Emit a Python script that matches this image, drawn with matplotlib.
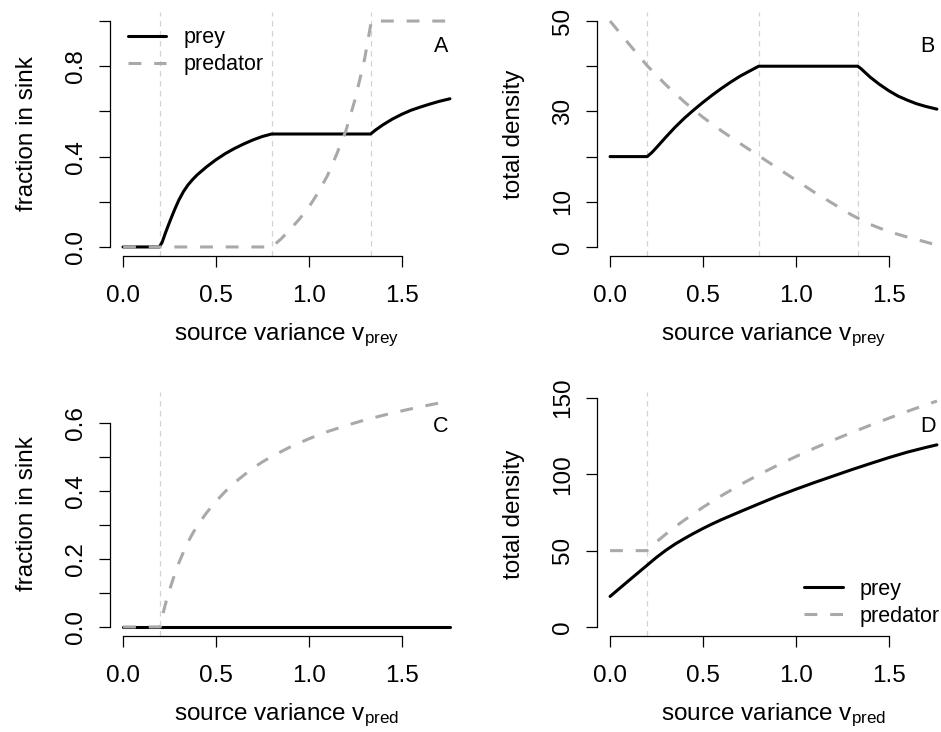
import matplotlib
matplotlib.use("Agg")
import matplotlib.pyplot as plt

plt.rcParams['font.family'] = ['Liberation Sans', 'DejaVu Sans']
plt.rcParams['mathtext.fontset'] = 'custom'
plt.rcParams['mathtext.rm'] = 'Liberation Sans'
plt.rcParams['mathtext.it'] = 'Liberation Sans:italic'

# ---------------- data ----------------
# Panel A: fraction in sink vs source variance v_prey
a_prey_v = [0, 0.195, 0.21, 0.225, 0.24, 0.26, 0.28, 0.30, 0.325, 0.35, 0.375, 0.40, 0.45,
            0.50, 0.55, 0.60, 0.65, 0.70, 0.75, 0.80,
            1.333, 1.36, 1.40, 1.45, 1.50, 1.55, 1.60, 1.65, 1.70, 1.76]
a_prey = [0, 0, 0.02, 0.055, 0.088, 0.13, 0.17, 0.207, 0.245, 0.275, 0.299, 0.320, 0.355,
          0.386, 0.413, 0.436, 0.456, 0.474, 0.489, 0.5,
          0.5, 0.518, 0.541, 0.566, 0.587, 0.605, 0.619, 0.632, 0.644, 0.656]
a_pred_v = [0, 0.80, 0.85, 0.90, 0.95, 1.00, 1.05, 1.10, 1.15, 1.20, 1.25, 1.30, 1.337, 1.76]
a_pred = [0, 0, 0.035, 0.078, 0.124, 0.176, 0.24, 0.315, 0.41, 0.515, 0.655, 0.83, 1.0, 1.0]

# Panel B: total density vs v_prey
b_prey_v = [0, 0.2, 0.225, 0.25, 0.30, 0.35, 0.40, 0.45, 0.50, 0.55, 0.60, 0.65, 0.70, 0.75, 0.80,
            1.333, 1.35, 1.40, 1.45, 1.50, 1.55, 1.60, 1.65, 1.70, 1.76]
b_prey = [20, 20, 20.9, 22.0, 24.3, 26.5, 28.5, 30.3, 32.0, 33.6, 35.1, 36.5, 37.8, 38.9, 40,
          40, 39.5, 37.6, 36.0, 34.6, 33.4, 32.5, 31.7, 31.1, 30.5]
b_pred_v = [0, 0.1, 0.2, 0.3, 0.4, 0.5, 0.6, 0.7, 0.8, 0.9, 1.0, 1.1, 1.2, 1.3, 1.4, 1.5,
            1.6, 1.7, 1.76]
b_pred = [50, 45.0, 40.1, 35.9, 32.1, 28.7, 25.7, 22.9, 20.2, 17.5, 14.8, 12.1, 9.6, 7.1, 5.0,
          3.4, 2.2, 1.1, 0.4]

# Panel C: fraction in sink vs source variance v_pred
c_v = [0, 0.2, 0.21, 0.22, 0.24, 0.26, 0.28, 0.30, 0.325, 0.35, 0.375, 0.40, 0.45, 0.50,
       0.55, 0.60, 0.65, 0.70, 0.75, 0.80, 0.90, 1.00, 1.10, 1.20, 1.30, 1.40, 1.50, 1.60,
       1.70, 1.76]
c_pred = [0, 0, 0.025, 0.05, 0.092, 0.125, 0.158, 0.188, 0.22, 0.25, 0.275, 0.298, 0.336, 0.369,
          0.398, 0.424, 0.446, 0.467, 0.485, 0.501, 0.529, 0.553, 0.574, 0.592, 0.608, 0.622,
          0.635, 0.647, 0.658, 0.664]
c_prey = [0] * len(c_v)

# Panel D: total density vs v_pred
d_prey_v = [0, 0.1, 0.2, 0.25, 0.30, 0.35, 0.40, 0.45, 0.50, 0.55, 0.60, 0.70, 0.80, 0.90,
            1.00, 1.10, 1.20, 1.30, 1.40, 1.50, 1.60, 1.70, 1.76]
d_prey = [20, 30.3, 40.5, 45.6, 50.2, 54.3, 57.9, 61.3, 64.5, 67.5, 70.3, 75.5, 80.6, 85.6,
          90.2, 94.6, 98.8, 103.0, 107.0, 110.9, 114.5, 117.6, 119.3]
d_pred_v = [0, 0.2, 0.25, 0.30, 0.35, 0.40, 0.45, 0.50, 0.60, 0.70, 0.80, 0.90, 1.00, 1.10,
            1.20, 1.30, 1.40, 1.50, 1.60, 1.70, 1.76]
d_pred = [50, 50, 55.7, 60.8, 65.6, 70.0, 74.2, 78.4, 86.0, 93.1, 99.7, 105.8, 111.6, 117.1,
          122.3, 127.3, 132.1, 136.7, 141.2, 145.5, 148.0]

thresholds_top = [0.2, 0.8, 1.333]
thresholds_bottom = [0.2]

x_ticks = [0, 0.5, 1.0, 1.5]
x_ticklabels = ['0.0', '0.5', '1.0', '1.5']
a_yticks = [0, 0.2, 0.4, 0.6, 0.8, 1.0]
a_yticklabels = ['0.0', '', '0.4', '', '0.8', '']
b_yticks = [0, 10, 20, 30, 40, 50]
b_yticklabels = ['0', '10', '', '30', '', '50']
c_yticks = [0, 0.1, 0.2, 0.3, 0.4, 0.5, 0.6]
c_yticklabels = ['0.0', '', '0.2', '', '0.4', '', '0.6']
d_yticks = [0, 50, 100, 150]
d_yticklabels = ['0', '50', '100', '150']

# ---------------- figure ----------------
W, H = 941, 732
fig = plt.figure(figsize=(W / 100, H / 100), dpi=100)

GRAY = '#A9A9A9'
LIGHT = '#D3D3D3'
FS = 17.5
LFS = 15.5


def add_ax(l, t, r, b):
    return fig.add_axes([l / W, 1 - b / H, (r - l) / W, (b - t) / H])


def panel(ax, box, series, yticks, yticklabels, vlines, letter, xlabel, ylabel, legend_at=None):
    l, t, r, b = box
    allx = [x for s in series for x in s[0]]
    ally = [y for s in series for y in s[1]] + [0]
    x0, x1 = min(allx), max(allx)
    y0, y1 = min(ally), max(ally)
    ax.set_xlim(x0 - 0.04 * (x1 - x0), x1 + 0.04 * (x1 - x0))
    ax.set_ylim(y0 - 0.04 * (y1 - y0), y1 + 0.04 * (y1 - y0))

    for v in vlines:
        ax.axvline(v, color=LIGHT, lw=0.9, ls=(0, (4.4, 3.6)), zorder=1)

    lp, = ax.plot(series[0][0], series[0][1], color='black', lw=2.2,
                  solid_capstyle='round', solid_joinstyle='round', zorder=2)
    lq, = ax.plot(series[1][0], series[1][1], color=GRAY, lw=2.2,
                  ls=(0, (4.2, 4.2)), zorder=3)

    for s in ['top', 'right']:
        ax.spines[s].set_visible(False)
    for s in ['left', 'bottom']:
        ax.spines[s].set_linewidth(0.9)
    ax.spines['bottom'].set_bounds(x_ticks[0], x_ticks[-1])
    ax.spines['left'].set_bounds(yticks[0], yticks[-1])
    ax.set_xticks(x_ticks)
    ax.set_xticklabels(x_ticklabels)
    ax.set_yticks(yticks)
    ax.set_yticklabels(yticklabels)
    ax.tick_params(axis='both', direction='out', length=8, width=0.9, labelsize=FS)
    ax.tick_params(axis='x', pad=13)
    ax.tick_params(axis='y', pad=8.8, labelrotation=90)
    for lab in ax.get_yticklabels():
        lab.set_va('center')

    ax.text(0.937, 0.836, letter, transform=ax.transAxes, ha='center', va='baseline', fontsize=LFS)

    cx = (l + r) / 2
    fig.text(cx / W, 1 - (b + 84.5) / H, xlabel, ha='center', va='baseline', fontsize=FS)
    fig.text((l - 76.7) / W, 1 - ((t + b) / 2) / H, ylabel, rotation=90, rotation_mode='anchor',
             ha='center', va='baseline', fontsize=FS)

    if legend_at is not None:
        ax.legend([lp, lq], ['prey', 'predator'], loc='upper left', bbox_to_anchor=legend_at,
                  frameon=False, fontsize=LFS, handlelength=1.8, handletextpad=0.8,
                  labelspacing=0.28, borderpad=0, borderaxespad=0)


xl_prey = r'source variance $\mathregular{v_{prey}}$'
xl_pred = r'source variance $\mathregular{v_{pred}}$'

boxA = (110, 12, 463, 256)
boxB = (597, 12, 950, 256)
boxC = (110, 392, 463, 636)
boxD = (597, 392, 950, 636)

axA = add_ax(*boxA)
panel(axA, boxA, [(a_prey_v, a_prey), (a_pred_v, a_pred)], a_yticks, a_yticklabels,
      thresholds_top, 'A', xl_prey, 'fraction in sink', legend_at=(0.05, 0.937))

axB = add_ax(*boxB)
panel(axB, boxB, [(b_prey_v, b_prey), (b_pred_v, b_pred)], b_yticks, b_yticklabels,
      thresholds_top, 'B', xl_prey, 'total density')

axC = add_ax(*boxC)
panel(axC, boxC, [(c_v, c_prey), (c_v, c_pred)], c_yticks, c_yticklabels,
      thresholds_bottom, 'C', xl_pred, 'fraction in sink')

axD = add_ax(*boxD)
panel(axD, boxD, [(d_prey_v, d_prey), (d_pred_v, d_pred)], d_yticks, d_yticklabels,
      thresholds_bottom, 'D', xl_pred, 'total density', legend_at=(0.586, 0.235))

fig.savefig('out.png', dpi=100)
